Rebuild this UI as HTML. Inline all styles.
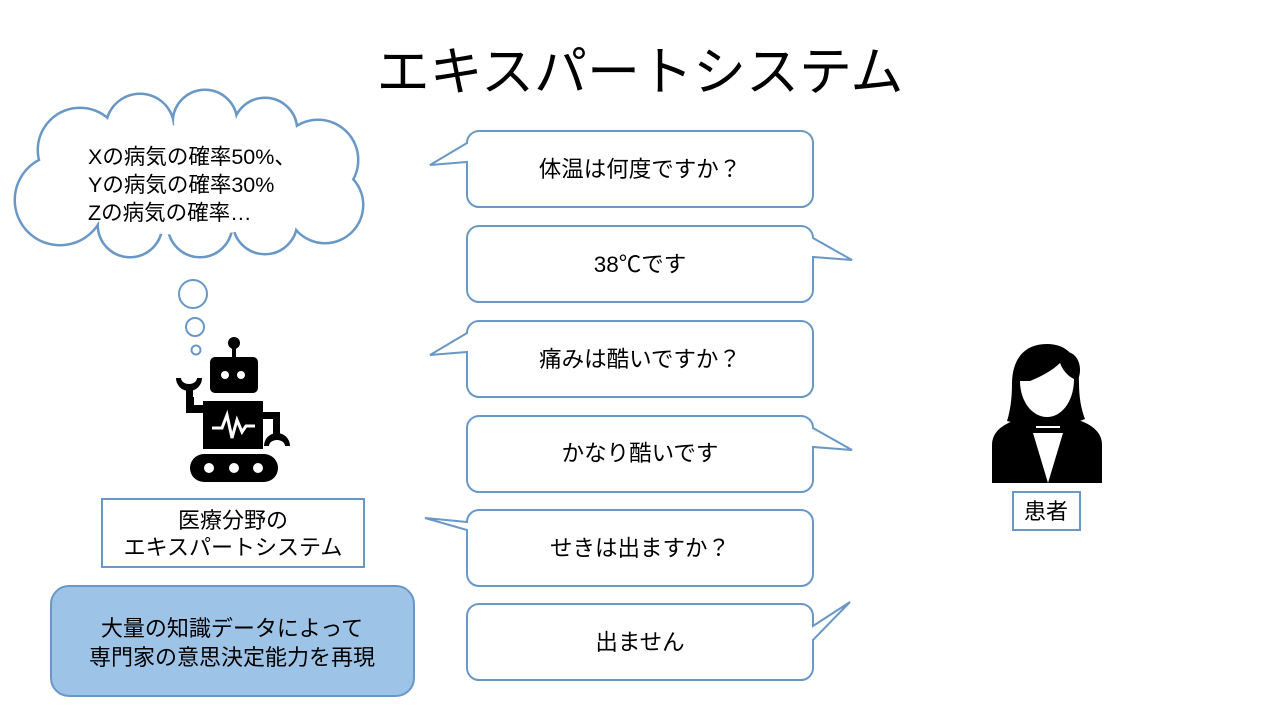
<!DOCTYPE html>
<html><head><meta charset="utf-8"><style>
html,body{margin:0;padding:0;background:#fff}
svg{display:block}
text{font-family:"Liberation Sans","Noto Sans CJK JP",sans-serif;fill:#000}
</style></head><body>
<svg width="1280" height="720" viewBox="0 0 1280 720" xmlns="http://www.w3.org/2000/svg">
<text x="640" y="90" font-size="53" text-anchor="middle">エキスパートシステム</text>

<!-- cloud -->
<g stroke="#6a98c6" stroke-width="3" fill="#fff">
<circle cx="80" cy="150" r="42"/>
<circle cx="140" cy="128" r="34"/>
<circle cx="205" cy="122" r="32"/>
<circle cx="265" cy="130" r="32"/>
<circle cx="318" cy="160" r="40"/>
<circle cx="325" cy="205" r="38"/>
<circle cx="265" cy="222" r="32"/>
<circle cx="200" cy="225" r="32"/>
<circle cx="130" cy="225" r="32"/>
<circle cx="60" cy="200" r="45"/>
</g>
<g fill="#fff">
<circle cx="80" cy="150" r="41"/>
<circle cx="140" cy="128" r="33"/>
<circle cx="205" cy="122" r="31"/>
<circle cx="265" cy="130" r="31"/>
<circle cx="318" cy="160" r="39"/>
<circle cx="325" cy="205" r="37"/>
<circle cx="265" cy="222" r="31"/>
<circle cx="200" cy="225" r="31"/>
<circle cx="130" cy="225" r="31"/>
<circle cx="60" cy="200" r="44"/>
<ellipse cx="190" cy="180" rx="140" ry="55"/>
</g>
<text font-size="21.5"><tspan x="88" y="164">Xの病気の確率50%、</tspan><tspan x="88" y="192">Yの病気の確率30%</tspan><tspan x="88" y="220">Zの病気の確率…</tspan></text>
<g stroke="#6a98c6" stroke-width="2" fill="#fff">
<circle cx="193" cy="294" r="14"/>
<circle cx="195" cy="327" r="9"/>
<circle cx="196" cy="350" r="4.5"/>
</g>

<!-- robot -->
<g fill="#000">
<circle cx="234" cy="343" r="6"/>
<rect x="232" y="345" width="4" height="14"/>
<rect x="210" y="357" width="48" height="36" rx="5"/>
<rect x="203" y="401" width="60" height="48"/>
<rect x="186" y="397" width="8" height="14" />
<rect x="186" y="405" width="22" height="8"/>
<path d="M176 378 a13 13 0 0 0 26 0 l-5 0 a8 6 0 0 1 -16 0 z"/>
<rect x="186" y="388" width="7" height="18"/>
<rect x="260" y="412" width="20" height="7"/>
<rect x="273" y="412" width="7" height="22"/>
<path d="M264 446 a13 13 0 0 1 26 0 l-5 0 a8 6 0 0 0 -16 0 z"/>
<rect x="190" y="454" width="88" height="28" rx="14"/>
</g>
<g fill="#fff">
<circle cx="225" cy="375" r="4"/><circle cx="241" cy="375" r="4"/>
<circle cx="209" cy="468" r="5"/><circle cx="234" cy="468" r="5"/><circle cx="258" cy="468" r="5"/>
</g>
<polyline points="212,428 222,428 227,415 232,438 237,420 242,432 246,426 255,426" fill="none" stroke="#fff" stroke-width="3"/>

<rect x="102" y="499" width="262" height="68" fill="#fff" stroke="#6a98c6" stroke-width="2"/>
<text font-size="22" text-anchor="middle"><tspan x="233" y="528">医療分野の</tspan><tspan x="233" y="555">エキスパートシステム</tspan></text>

<rect x="51" y="586" width="363" height="110" rx="18" fill="#9dc3e6" stroke="#6a98c6" stroke-width="2"/>
<text font-size="22" text-anchor="middle"><tspan x="232" y="636">大量の知識データによって</tspan><tspan x="232" y="665">専門家の意思決定能力を再現</tspan></text>

<!-- bubbles -->
<g stroke="#6a98c6" stroke-width="2" fill="#fff">
<path d="M479 131 H801 a12 12 0 0 1 12 12 V195 a12 12 0 0 1 -12 12 H479 a12 12 0 0 1 -12 -12 V162 L430 165 L467 143 a12 12 0 0 1 12 -12 z"/>
<path d="M479 226 H801 a12 12 0 0 1 12 12 L852 260 L813 257 V290 a12 12 0 0 1 -12 12 H479 a12 12 0 0 1 -12 -12 V238 a12 12 0 0 1 12 -12 z"/>
<path d="M479 321 H801 a12 12 0 0 1 12 12 V385 a12 12 0 0 1 -12 12 H479 a12 12 0 0 1 -12 -12 V352 L430 355 L467 333 a12 12 0 0 1 12 -12 z"/>
<path d="M479 416 H801 a12 12 0 0 1 12 12 L852 450 L813 447 V480 a12 12 0 0 1 -12 12 H479 a12 12 0 0 1 -12 -12 V428 a12 12 0 0 1 12 -12 z"/>
<path d="M479 510 H801 a12 12 0 0 1 12 12 V574 a12 12 0 0 1 -12 12 H479 a12 12 0 0 1 -12 -12 V530 L425 518 L467 522 a12 12 0 0 1 12 -12 z"/>
<path d="M479 604 H801 a12 12 0 0 1 12 12 V626 L850 602 L813 640 V668 a12 12 0 0 1 -12 12 H479 a12 12 0 0 1 -12 -12 V616 a12 12 0 0 1 12 -12 z"/>
</g>
<g font-size="22.5" text-anchor="middle">
<text x="640" y="177">体温は何度ですか？</text>
<text x="640" y="272">38℃です</text>
<text x="640" y="367">痛みは酷いですか？</text>
<text x="640" y="461">かなり酷いです</text>
<text x="640" y="556">せきは出ますか？</text>
<text x="640" y="650">出ません</text>
</g>

<!-- patient -->
<g fill="#000">
<path d="M1047 344 c-25 0 -35 18 -35 40 c0 15 -2 28 -5 37 l12 3 c8 2 16 -1 28 -1 c12 0 22 3 30 -1 l8 -3 c-4 -10 -6 -22 -6 -36 c0 -12 -3 -22 -8 -29 c-6 -7 -14 -10 -24 -10 z"/>
<path d="M1062 352 c12 -2 18 8 18 18 c0 6 -2 10 -4 12 z"/>
<path d="M992 483 V445 c0 -14 12 -22 30 -27 l8 -2 h34 l8 2 c18 5 30 13 30 27 V483 z"/>
</g>
<path d="M1030 381 c10 -4 22 -10 30 -18 c4 10 10 14 14 16 c0 22 -12 38 -27 38 c-15 0 -27 -16 -27 -36 z" fill="#fff"/>
<path d="M1033 433 h30 l-15 50 z" fill="#fff"/>
<path d="M1036 427 h24" stroke="#fff" stroke-width="2"/>
<rect x="1013" y="492" width="67" height="38" fill="#fff" stroke="#6a98c6" stroke-width="2"/>
<text x="1046" y="519" font-size="22" text-anchor="middle">患者</text>
</svg>
</body></html>
